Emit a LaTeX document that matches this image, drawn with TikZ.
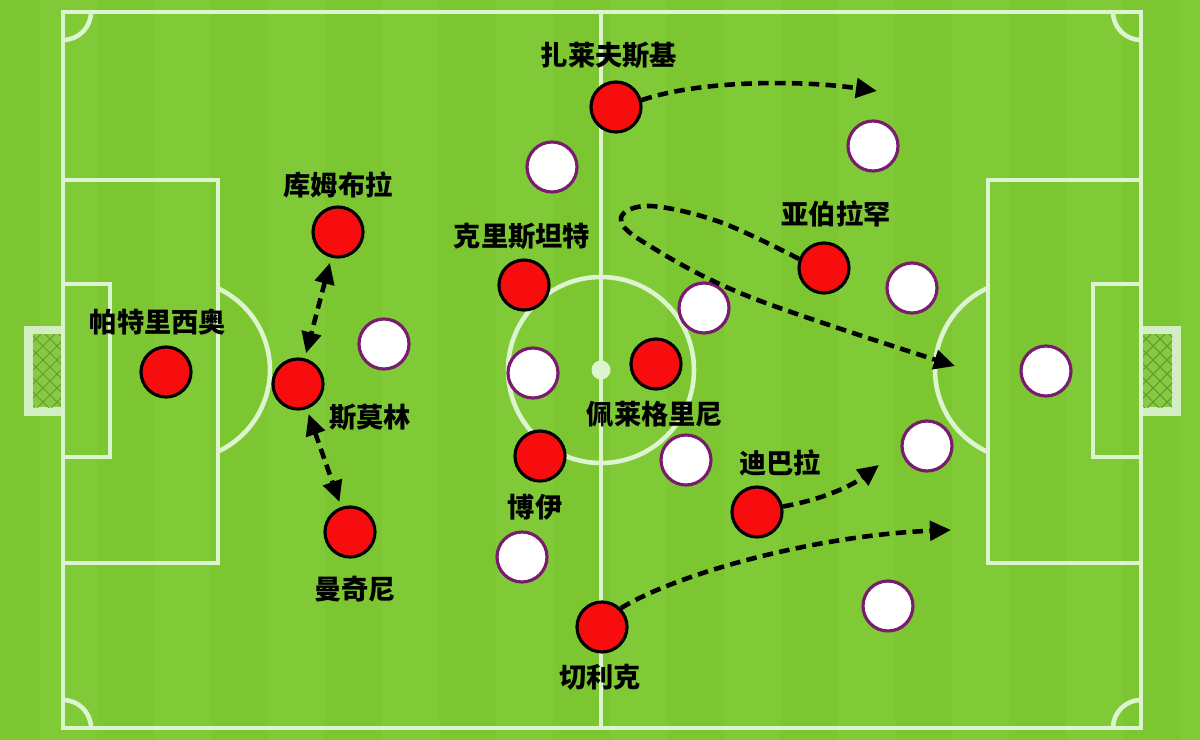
\documentclass[tikz,border=0pt]{standalone}
\usepackage{fontspec}
\newfontfamily\cjk{Noto Sans CJK SC}
\usetikzlibrary{arrows.meta}
\definecolor{grass}{HTML}{7CC632}
\definecolor{grassB}{HTML}{81CA37}
\definecolor{chalk}{HTML}{DCF5D0}
\definecolor{ptred}{HTML}{F70D0D}
\definecolor{oppring}{HTML}{7A1C6E}
\definecolor{netbg}{HTML}{88C944}
\definecolor{netline}{HTML}{5E9C2E}
\definecolor{netframe}{HTML}{D3EEC2}
\begin{document}
\begin{tikzpicture}[x=0.02cm,y=-0.02cm,
 chalkline/.style={draw=chalk, line width=2.6pt},
 home/.style={circle, fill=ptred, draw=black, line width=1.8pt, minimum size=1cm, inner sep=0pt},
 away/.style={circle, fill=white, draw=oppring, line width=1.8pt, minimum size=1cm, inner sep=0pt},
 lbl/.style={font=\cjk\bfseries\fontsize{15.5pt}{18pt}\selectfont, text=black, inner sep=0pt},
 run/.style={draw=black, line width=2.6pt, dash pattern=on 6pt off 3.6pt, -{Triangle[length=12pt,width=11pt]}},
 swap/.style={run, {Triangle[length=12pt,width=11pt]}-{Triangle[length=12pt,width=11pt]}, shorten <=3pt, shorten >=3pt},
]
\useasboundingbox (0,0) rectangle (1200,740);
\fill[grass] (0,0) rectangle (1200,740);
\foreach \i in {0,...,10} { \fill[grassB] (\i*114+40,0) rectangle (\i*114+97,740); }

% goals
\fill[netframe] (24,326) rectangle (63,416);
\fill[netbg] (33,334) rectangle (61,407);
\fill[netframe] (1141,326) rectangle (1181,416);
\fill[netbg] (1143,334) rectangle (1172,407);
\begin{scope}
\clip (33,334) rectangle (61,407);
\foreach \k in {0,...,20} {
  \draw[netline, line width=0.6pt] (\k*14-67,320) -- ++(110,110);
  \draw[netline, line width=0.6pt] (\k*14+13,320) -- ++(-110,110);
}
\end{scope}
\begin{scope}
\clip (1143,334) rectangle (1172,407);
\foreach \k in {0,...,20} {
  \draw[netline, line width=0.6pt] (\k*14+1043,320) -- ++(110,110);
  \draw[netline, line width=0.6pt] (\k*14+1123,320) -- ++(-110,110);
}
\end{scope}

% field lines
\draw[chalkline] (63,12) rectangle (1141,728);
\draw[chalkline] (601,12) -- (601,728);
\draw[chalkline] (601,370) circle[radius=93];
\fill[chalk] (601,370) circle[radius=9.5];
\draw[chalkline] (63,180) rectangle (218,563);
\draw[chalkline] (63,284) rectangle (110,457);
\draw[chalkline] (988,180) rectangle (1141,563);
\draw[chalkline] (1093,284) rectangle (1141,457);
\draw[chalkline] (218,288.4) arc[start angle=-65, end angle=65, radius=90];
\draw[chalkline] (988.4,452.2) arc[start angle=114, end angle=246, radius=90];
\draw[chalkline] (91,12) arc[start angle=0, end angle=90, radius=28];
\draw[chalkline] (1141,40) arc[start angle=90, end angle=180, radius=28];
\draw[chalkline] (63,700) arc[start angle=270, end angle=360, radius=28];
\draw[chalkline] (1113,728) arc[start angle=180, end angle=270, radius=28];

% opponents
\node[away] (w1) at (384,344) {};
\node[away] (w2) at (552,167) {};
\node[away] (w3) at (533,373) {};
\node[away] (w4) at (704,308) {};
\node[away] (w5) at (686,460) {};
\node[away] (w6) at (522,557) {};
\node[away] (w7) at (873,146) {};
\node[away] (w8) at (912,288) {};
\node[away] (w9) at (1046,371) {};
\node[away] (w10) at (927,446) {};
\node[away] (w11) at (888,606) {};

% home players
\node[home] (pat) at (166,372) {};
\node[home] (kum) at (338,232) {};
\node[home] (smo) at (298,384) {};
\node[home] (man) at (350,532) {};
\node[home] (cri) at (524,285) {};
\node[home] (boy) at (540,456) {};
\node[home] (pel) at (656,364) {};
\node[home] (zal) at (616,107) {};
\node[home] (abr) at (824,268) {};
\node[home] (dyb) at (757,512) {};
\node[home] (cel) at (602,627) {};

% labels
\node[lbl] (tpat) at (158,322) {帕特里西奥};
\node[lbl] (tkum) at (338,185) {库姆布拉};
\node[lbl] (tsmo) at (370,417) {斯莫林};
\node[lbl] (tman) at (355,589) {曼奇尼};
\node[lbl] (tcri) at (522,236) {克里斯坦特};
\node[lbl] (tboy) at (535,507) {博伊};
\node[lbl] (tpel) at (655,414) {佩莱格里尼};
\node[lbl] (tzal) at (609,55) {扎莱夫斯基};
\node[lbl] (tabr) at (836,214) {亚伯拉罕};
\node[lbl] (tdyb) at (780,463) {迪巴拉};
\node[lbl] (tcel) at (600,677) {切利克};

% runs
\coordinate (zalEnd) at (877,91);
\draw[run] (zal.15) .. controls (700,80) and (800,80) .. (zalEnd);
\coordinate (abrEnd) at (955,366);
\draw[run] plot[smooth, tension=0.6] coordinates {(abr.160) (720,222) (650,206) (621,218) (645,243) (750,297) (abrEnd)};
\coordinate (dybEnd) at (879,465);
\draw[run] (dyb.12) .. controls (820,500) and (850,487) .. (dybEnd);
\coordinate (celEnd) at (951,530);
\draw[run] (cel.45) .. controls (680,572) and (820,535) .. (celEnd);
\draw[swap] (kum) -- (smo);
\draw[swap] (smo) -- (man);
\end{tikzpicture}
\end{document}
